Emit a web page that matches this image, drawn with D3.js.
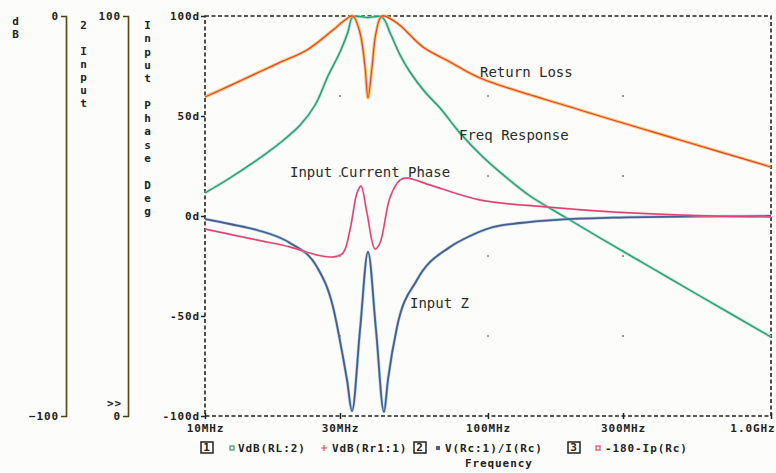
<!DOCTYPE html>
<html>
<head>
<meta charset="utf-8">
<script src="https://cdn.jsdelivr.net/npm/d3@7"></script>
<style>
  html, body { margin: 0; padding: 0; background: #fcfcfa; }
  svg { display: block; }
  .tick text, .lbl { font-family: "DejaVu Sans Mono", monospace; font-weight: bold; font-size: 11px; letter-spacing: 0.9px; fill: #222; }
  .trace-label { font-family: "DejaVu Sans Mono", monospace; font-size: 14px; fill: #2a2a2a; }
</style>
</head>
<body>
<svg id="chart" width="776" height="473"></svg>
<script>
// ---------- axis ticks ----------
const xTickValues = [10, 30, 100, 300, 1000];            // MHz
const xTickLabels = ["10MHz", "30MHz", "100MHz", "300MHz", "1.0GHz"];
const degTickValues = [100, 50, 0, -50, -100];
const degTickLabels = ["100d", "50d", "0d", "-50d", "-100d"];
const dbTickValues = [0, -100];
const zTickValues = [100, 0];
const gridFreqs = [30, 100, 300];
const gridDb = [-20, -40, -60, -80];

// ---------- traces: [frequency MHz, value] ----------
// 1: VdB(RL:2)  (dB)
const freqResponse = [
  [10, -44.25], [12.25, -40.5], [15.27, -36], [18.4, -31.75], [21.7, -27.25],
  [24.5, -22.25], [27.2, -15], [30.0, -9], [32.0, -4], [33.3, -0.25],
  [37.6, -0.4], [42.2, -0.25], [45.1, -4.25], [48.9, -9.75], [53.0, -14],
  [59.9, -19], [67.7, -23], [79.6, -29.25], [96, -35.25], [116.7, -40.5],
  [140.8, -45], [187, -50.25], [249, -55.5], [374, -62.75], [561, -70],
  [1000, -80.25]
];
// 1: VdB(Rr1:1)  (dB)
const returnLoss = [
  [10, -20.25], [12.25, -17.4], [15.27, -14.25], [18.4, -11.6], [22.94, -8.5],
  [28.34, -3.5], [31.24, -1], [33.3, 0], [35.3, -4.25], [36.77, -12.75],
  [37.67, -20.5], [38.92, -12.75], [40.2, -4.25], [42.2, 0], [47.7, -1.75],
  [58.9, -7.75], [73.4, -11.5], [93.7, -15.5], [211.4, -23.5], [477, -31],
  [1000, -37.75]
];
// 2: V(Rc:1)/I(Rc)  (ohms)
const inputZ = [
  [10, 49.25], [12.25, 48], [15.27, 46.5], [19.97, 43.25], [24.87, 37.25],
  [28.34, 27.25], [30.73, 14.75], [31.76, 9], [33.07, 1.25], [35.3, 21.5],
  [37.67, 41], [40.2, 21.5], [42.9, 1], [44.3, 9], [47.7, 22.25],
  [56.1, 34], [73.4, 42.25], [86.4, 45], [101.6, 47], [129.8, 48.25],
  [179.7, 49.1], [276.5, 49.6], [561, 49.9], [1000, 50]
];
// 3: -180-Ip(Rc)  (degrees)
const inputPhase = [
  [10, -6.5], [15.27, -12], [19.97, -15.5], [24.87, -19.5], [28.34, -20.5],
  [30.73, -18.5], [32.53, -7], [34.44, 11.5], [35.58, 15], [37.36, 1.5],
  [39.87, -16.5], [41.53, -13.5], [45.1, 9.5], [48.9, 18], [51.72, 19],
  [62.37, 15.5], [93.7, 8], [161.6, 4.5], [276.5, 2], [477, 0.5], [1000, -0.5]
];

// ---------- layout ----------
const svg = d3.select("#chart");
const plotL = 205, plotR = 771, plotT = 16, plotB = 416;

const x = d3.scaleLog().domain([10, 1000]).range([plotL, plotR]);
const yDb = d3.scaleLinear().domain([-100, 0]).range([plotB, plotT]);
const yZ = d3.scaleLinear().domain([0, 100]).range([plotB, plotT]);
const yDeg = d3.scaleLinear().domain([-100, 100]).range([plotB, plotT]);

// faint grid dots
const dots = [];
gridFreqs.forEach(f => gridDb.forEach(v => dots.push([f, v])));
svg.append("g").selectAll("rect").data(dots).join("rect")
  .attr("x", d => x(d[0]) - 1).attr("y", d => yDb(d[1]) - 1)
  .attr("width", 2).attr("height", 2).attr("fill", "#999");

// dashed plot frame
svg.append("rect")
  .attr("x", plotL).attr("y", plotT).attr("width", plotR - plotL).attr("height", plotB - plotT)
  .attr("fill", "none").attr("stroke", "#222").attr("stroke-width", 1.6)
  .attr("stroke-dasharray", "4,2.5");

// main (phase) axis
const degAxis = svg.append("g").attr("transform", `translate(${plotL},0)`)
  .call(d3.axisLeft(yDeg).tickValues(degTickValues)
    .tickFormat((d, i) => degTickLabels[i]).tickSize(4).tickPadding(1));
degAxis.select(".domain").remove();
degAxis.selectAll(".tick line").attr("stroke", "#222").attr("stroke-width", 1.5);

// frequency axis
const xAxis = svg.append("g").attr("transform", `translate(0,${plotB})`)
  .call(d3.axisBottom(x).tickValues(xTickValues)
    .tickFormat((d, i) => xTickLabels[i]).tickSize(3).tickPadding(5));
xAxis.select(".domain").remove();
xAxis.selectAll(".tick line").attr("y1", -3).attr("stroke", "#222").attr("stroke-width", 1.5);
xAxis.selectAll(".tick text").filter(d => d === 1000).attr("text-anchor", "end").attr("dx", 4);

// left side axes (dB and input Z)
function sideAxis(xPos, scale, values) {
  const g = svg.append("g").attr("transform", `translate(${xPos},0)`)
    .call(d3.axisLeft(scale).tickValues(values).tickSize(5).tickSizeOuter(5).tickPadding(2));
  g.selectAll(".tick line").remove();
  g.select(".domain").attr("stroke", "#4a3c12").attr("stroke-width", 1.6);
  g.append("line").attr("x1", 1.4).attr("x2", 1.4).attr("y1", plotT).attr("y2", plotB)
    .attr("stroke", "#e0c43a").attr("stroke-width", 1);
  return g;
}
sideAxis(66, yDb, dbTickValues);
sideAxis(128, yZ, zTickValues);
svg.append("text").attr("class", "lbl").attr("x", 122).attr("y", 407)
  .attr("text-anchor", "end").text(">>");

// stacked vertical axis titles
function stacked(xPos, y0, step, str) {
  svg.append("g").selectAll("text").data(str.split("")).join("text")
    .attr("class", "lbl").attr("text-anchor", "middle")
    .attr("x", xPos).attr("y", (d, i) => y0 + i * step).text(d => d);
}
stacked(16, 25, 13, "dB");
stacked(84, 29, 13, "2 Input");
stacked(148, 29, 13.3, "Input Phase Deg");

// traces
const smooth = d3.curveCatmullRom.alpha(0.5);
const line = (ys, curve) => d3.line().x(d => x(d[0])).y(d => ys(d[1])).curve(curve);
const plot = svg.append("g");

function trace(data, ys, curve, under, main, wUnder, wMain) {
  plot.append("path").datum(data).attr("d", line(ys, curve))
    .attr("fill", "none").attr("stroke", under).attr("stroke-width", wUnder)
    .attr("stroke-linejoin", "round").attr("opacity", 0.75);
  plot.append("path").datum(data).attr("d", line(ys, curve))
    .attr("fill", "none").attr("stroke", main).attr("stroke-width", wMain)
    .attr("stroke-linejoin", "round");
}
trace(freqResponse, yDb, smooth, "#8fd6d0", "#2f9a68", 3, 1.4);
trace(returnLoss, yDb, smooth, "#f6b23c", "#e23f3a", 3.2, 1.2);
trace(inputZ, yZ, d3.curveMonotoneX, "#8cc8dc", "#4f5a8c", 3, 1.8);
trace(inputPhase, yDeg, smooth, "#f4a6c0", "#e0426f", 2, 1.4);

// trace labels
const labels = [
  ["Return Loss", 480, 77],
  ["Freq Response", 459, 140],
  ["Input Current Phase", 290, 177],
  ["Input Z", 410, 308]
];
svg.append("g").selectAll("text").data(labels).join("text")
  .attr("class", "trace-label").attr("x", d => d[1]).attr("y", d => d[2])
  .text(d => d[0]);

// legend
const legY = 452;
function keyBox(xPos, n) {
  svg.append("rect").attr("x", xPos).attr("y", legY - 10).attr("width", 12).attr("height", 11)
    .attr("fill", "none").attr("stroke", "#222").attr("stroke-width", 1.5);
  svg.append("text").attr("class", "lbl").attr("x", xPos + 6).attr("y", legY - 1)
    .attr("text-anchor", "middle").attr("font-size", "9px").text(n);
}
keyBox(201, "1");
keyBox(414, "2");
keyBox(568, "3");
svg.append("rect").attr("x", 230).attr("y", legY - 6).attr("width", 4).attr("height", 4)
  .attr("fill", "none").attr("stroke", "#2f9a68").attr("stroke-width", 1.2);
svg.append("path").attr("d", `M321,${legY - 4}h6M324,${legY - 7}v6`)
  .attr("stroke", "#e24a4a").attr("stroke-width", 1.2);
svg.append("rect").attr("x", 436).attr("y", legY - 6).attr("width", 4).attr("height", 4)
  .attr("fill", "#4f5a8c");
svg.append("rect").attr("x", 596).attr("y", legY - 6).attr("width", 4).attr("height", 4)
  .attr("fill", "none").attr("stroke", "#e0426f").attr("stroke-width", 1.2);
const legendText = [["VdB(RL:2)", 238], ["VdB(Rr1:1)", 332], ["V(Rc:1)/I(Rc)", 445], ["-180-Ip(Rc)", 605]];
svg.append("g").selectAll("text").data(legendText).join("text")
  .attr("class", "lbl").attr("x", d => d[1]).attr("y", legY).text(d => d[0]);
svg.append("text").attr("class", "lbl").attr("x", 465).attr("y", 467).text("Frequency");
</script>
</body>
</html>
